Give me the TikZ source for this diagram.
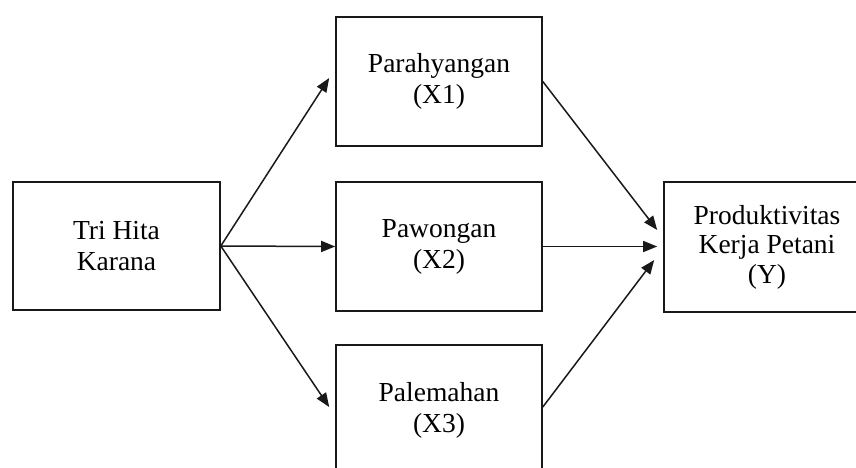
\documentclass[tikz,border=0pt]{standalone}
\usepackage{fontspec}
\setmainfont{Liberation Serif}
\usetikzlibrary{arrows.meta}
\begin{document}
\begin{tikzpicture}[x=1pt,y=-1pt,
  box/.style={draw=black!90, line width=1.6pt, rectangle, inner sep=0pt,
    align=center, font=\fontsize{27.5}{31}\selectfont, text=black},
  link/.style={draw=black!90, line width=1.5pt, -{Triangle[length=14pt,width=11pt]}}]
  \useasboundingbox (0,0) rectangle (856,467);
  \clip (0,0) rectangle (856,467);

  % boxes
  \node[box, minimum width=207pt, minimum height=128pt] (thk) at (116.5,246) {Tri Hita\\Karana};
  \node[box, minimum width=206pt, minimum height=129pt] (x1) at (439,81.5) {Parahyangan\\(X1)};
  \node[box, minimum width=206pt, minimum height=129pt] (x2) at (439,246.5) {Pawongan\\(X2)};
  \node[box, minimum width=206pt, minimum height=130pt] (x3) at (439,410) {Palemahan\\(X3)};
  \node[box, minimum width=206pt, minimum height=130pt, font=\fontsize{27.5}{29.5}\selectfont] (y) at (767,247) {Produktivitas\\Kerja Petani\\(Y)};

  % from Tri Hita Karana to the three dimensions
  \draw[link] (thk.east) -- ([shift={(-6,-3.5)}]x1.west);
  \draw[link] (thk.east) -- (x2.west);
  \draw[link] (thk.east) -- ([shift={(-6,-3)}]x3.west);

  % from the three dimensions to productivity
  \draw[link] (x1.east) -- ([shift={(-6,-17)}]y.west);
  \draw[link] (x2.east) -- ([xshift=-6pt]y.west |- x2.east);
  \draw[link] ([yshift=3pt]x3.east) -- ([shift={(-9,13)}]y.west);
\end{tikzpicture}
\end{document}
